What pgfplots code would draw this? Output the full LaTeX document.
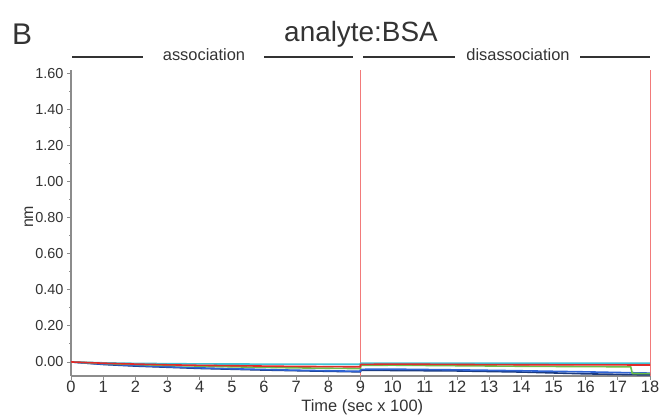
\documentclass[border=0pt]{standalone}
\usepackage{fontspec}
\setmainfont{Liberation Sans}
\usepackage{pgfplots}
\pgfplotsset{compat=1.18}
\definecolor{axgray}{HTML}{8C8C8C}
\definecolor{txtgray}{HTML}{333333}
\definecolor{vred}{HTML}{F27A7A}
\definecolor{ccyan}{HTML}{3FC3D6}
\definecolor{cred}{HTML}{E02A2A}
\definecolor{cgreen}{HTML}{6CC04A}
\definecolor{cblue}{HTML}{2E62D4}
\definecolor{cnavy}{HTML}{1B3A7E}
\begin{document}
\begin{tikzpicture}[x=1bp,y=1bp]
\useasboundingbox (0,0) rectangle (662,414);
\begin{axis}[
  at={(71bp,38bp)}, anchor=south west,
  scale only axis, width=579bp, height=306bp,
  xmin=0, xmax=18, ymin=-0.078, ymax=1.617,
  axis x line*=bottom, axis y line*=left,
  axis line style={axgray, line width=1.2bp, -},
  xtick={0,1,2,3,4,5,6,7,8,9,10,11,12,13,14,15,16,17,18},
  ytick={0,0.2,0.4,0.6,0.8,1.0,1.2,1.4,1.6},
  minor y tick num=1,
  tick align=outside, major tick length=4bp, minor tick length=2bp,
  tick style={axgray, line width=0.8bp},
  /pgf/number format/assume math mode=true,
  yticklabel style={/pgf/number format/.cd, fixed, fixed zerofill, precision=2, /tikz/.cd, font=\fontsize{14.5}{16}\selectfont, text=txtgray},
  xticklabel style={font=\fontsize{16.5}{18}\selectfont, text=txtgray, yshift=2.5bp},
  xlabel={Time (sec x 100)},
  xlabel style={font=\fontsize{16.5}{18}\selectfont, text=txtgray, at={(axis description cs:0.503,-0.102)}, anchor=center},
  ylabel={nm},
  ylabel style={font=\fontsize{16}{18}\selectfont, text=txtgray, at={(axis description cs:-0.073,0.52)}, anchor=center},
  clip=false,
  line join=round,
]
\addplot[vred, line width=0.9bp] coordinates {(9,-0.078) (9,1.617)};
\addplot[vred, line width=0.9bp] coordinates {(18,-0.078) (18,1.617)};
\addplot[cnavy, line width=1.6bp] coordinates {(0,0) (1,-0.014) (2,-0.023) (4,-0.036) (6,-0.045) (8,-0.052) (9,-0.055) (9,-0.046) (12,-0.050) (14,-0.056) (16,-0.066) (18,-0.072)};
\addplot[cblue, line width=1.6bp] coordinates {(0,0) (0.5,-0.007) (1,-0.012) (2,-0.020) (3,-0.027) (4,-0.033) (5,-0.038) (6,-0.042) (7,-0.046) (8,-0.049) (9,-0.052) (9,-0.041) (10,-0.040) (12,-0.044) (14,-0.049) (16,-0.055) (18,-0.062)};
\addplot[cgreen, line width=1.6bp] coordinates {(0,0) (1,-0.008) (2,-0.014) (3,-0.019) (4,-0.023) (5,-0.027) (6,-0.030) (7,-0.033) (8,-0.035) (9,-0.037) (9,-0.019) (10,-0.018) (12,-0.021) (14,-0.024) (16,-0.026) (17.4,-0.027) (17.45,-0.064) (18,-0.065)};
\addplot[ccyan, line width=1.6bp] coordinates {(0,0) (1,-0.005) (2,-0.008) (4,-0.011) (6,-0.012) (9,-0.013) (9,-0.007) (12,-0.007) (15,-0.007) (18,-0.007)};
\addplot[cred, line width=1.6bp] coordinates {(0,0) (1,-0.007) (2,-0.012) (3,-0.016) (4,-0.019) (5,-0.021) (6,-0.023) (7,-0.025) (8,-0.026) (9,-0.027) (9,-0.014) (10,-0.012) (11,-0.013) (13,-0.015) (15,-0.016) (18,-0.017)};
\end{axis}
% title and panel letter
\node[font=\fontsize{28}{30}\selectfont, text=txtgray] at (361,380) {analyte:BSA};
\node[font=\fontsize{30}{32}\selectfont, text=txtgray] at (22,380) {B};
% phase annotations
\draw[txtgray, line width=1.2bp] (72,357) -- (143,357);
\draw[txtgray, line width=1.2bp] (264,357) -- (353,357);
\node[font=\fontsize{16.5}{18}\selectfont, text=txtgray] at (204,359) {association};
\draw[txtgray, line width=1.2bp] (363,357) -- (455,357);
\draw[txtgray, line width=1.2bp] (580,357) -- (650,357);
\node[font=\fontsize{16.5}{18}\selectfont, text=txtgray] at (518,359) {disassociation};
\end{tikzpicture}
\end{document}
